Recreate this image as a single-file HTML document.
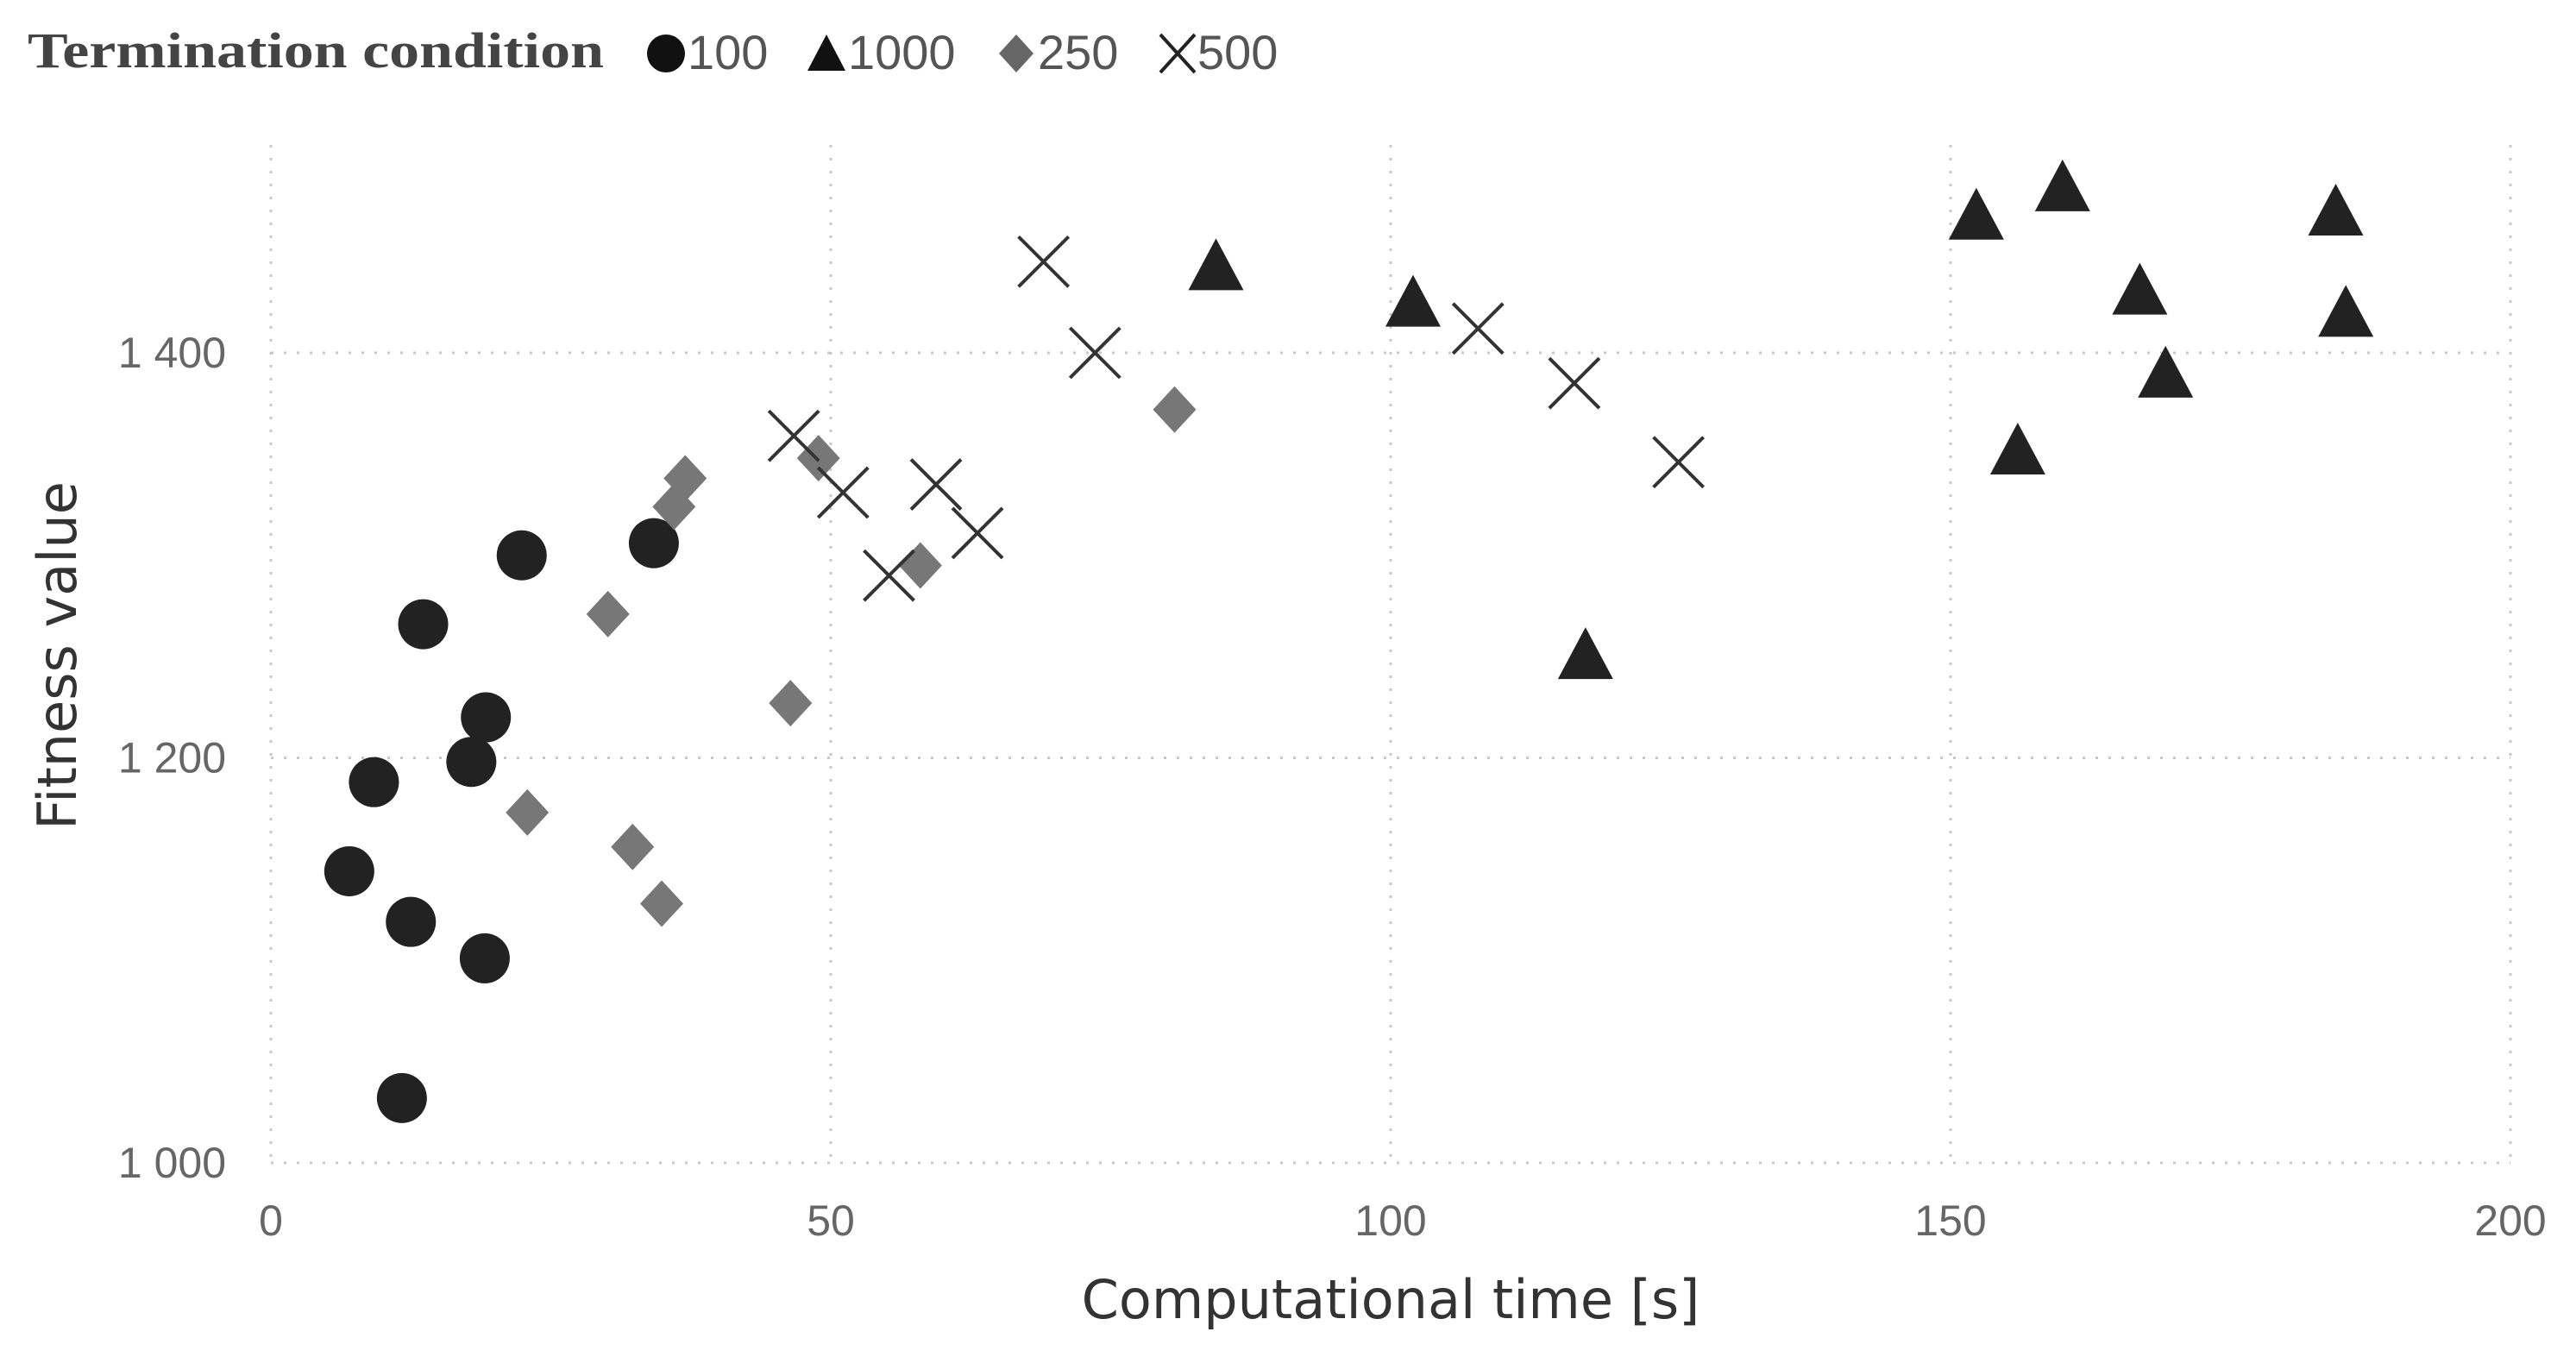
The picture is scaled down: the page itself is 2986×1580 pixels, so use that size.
<!DOCTYPE html>
<html><head><meta charset="utf-8"><style>
html,body{margin:0;padding:0;background:#fff;}
svg{display:block;}
</style></head><body>
<svg id="chart" width="2986" height="1580" viewBox="0 0 2986 1580" xmlns="http://www.w3.org/2000/svg">
<g id="legend">
<text x="32" y="78" textLength="668" lengthAdjust="spacingAndGlyphs" font-family="Liberation Serif, serif" font-weight="bold" font-size="58" fill="#444">Termination condition</text>
<g><circle cx="772" cy="62" r="22" fill="#111"/><text x="797" y="80" font-family="Liberation Sans Narrow, Liberation Sans, sans-serif" font-size="56" fill="#555">100</text></g>
<g><polygon points="958,40 936,82 980,82" fill="#111"/><text x="983" y="80" font-family="Liberation Sans Narrow, Liberation Sans, sans-serif" font-size="56" fill="#555">1000</text></g>
<g><polygon points="1178,40 1198,62 1178,84 1158,62" fill="#666"/><text x="1203" y="80" font-family="Liberation Sans Narrow, Liberation Sans, sans-serif" font-size="56" fill="#555">250</text></g>
<g><path d="M1345,40 L1385,84 M1385,40 L1345,84" stroke="#222" stroke-width="4"/><text x="1388" y="80" font-family="Liberation Sans Narrow, Liberation Sans, sans-serif" font-size="56" fill="#555">500</text></g>
</g>
<g id="grid"></g>
<g id="axes"></g>
<g id="marks"></g>
<text transform="translate(88,760) rotate(-90)" text-anchor="middle" font-family="DejaVu Sans, sans-serif" font-size="62" fill="#333">Fitness value</text>
<text x="1612" y="1528" text-anchor="middle" font-family="DejaVu Sans, sans-serif" font-size="62" fill="#333">Computational time [s]</text>
</svg>
<script>
const xTicks=[0,50,100,150,200];
const yTicks=[1000,1200,1400];
const yTickLabels=["1 000","1 200","1 400"];
const x100=[11.7,7.0,9.2,12.5,13.6,19.1,19.2,17.9,22.4,34.2];
const y100=[1032,1144,1188,1119,1266,1101,1220,1198,1300,1306];
const x1000=[84.4,102.0,117.4,152.3,160,166.9,169.2,156,184.4,185.3];
const y1000=[1442,1424,1250,1467,1481,1430,1389,1351,1469,1419];
const x250=[22.9,30.1,32.3,34.9,36,37,46.4,48.9,58,80.7];
const y250=[1173,1271,1156,1128,1324,1338,1227,1348,1295,1372];
const x500=[69,73.6,46.7,51.1,59.4,63.1,55.2,107.8,116.4,125.7];
const y500=[1445,1400,1359,1331,1335,1311,1290,1412,1385,1346];

const NS="http://www.w3.org/2000/svg";
const X0=314,X1=2910,Y1000=1348,Y1400=409;
function sx(v){return X0+(v-0)*(X1-X0)/200;}
function sy(v){return Y1000-(v-1000)*(Y1000-Y1400)/400;}
function mk(tag,attrs,parent){const e=document.createElementNS(NS,tag);for(const k in attrs)e.setAttribute(k,attrs[k]);parent.appendChild(e);return e;}
const grid=document.getElementById('grid'),axes=document.getElementById('axes'),marks=document.getElementById('marks');
const TOP=168;
xTicks.forEach((t,i)=>{
  const l=mk('line',{x1:sx(t),x2:sx(t),y1:TOP,y2:sy(1000),stroke:'#c8c8c8','stroke-width':3,'stroke-dasharray':'3,12'},grid);
  
  
  const tx=mk('text',{x:sx(t),y:1432,'text-anchor':'middle','font-family':'Liberation Sans Narrow, Liberation Sans, sans-serif','font-size':50,fill:'#666'},axes);
  tx.textContent=String(t);
  
  
});
yTicks.forEach((t,i)=>{
  const l=mk('line',{x1:X0,x2:X1,y1:sy(t),y2:sy(t),stroke:'#c8c8c8','stroke-width':3,'stroke-dasharray':'3,12'},grid);
  
  
  const tx=mk('text',{x:262,y:sy(t)+17,'text-anchor':'end','font-family':'Liberation Sans Narrow, Liberation Sans, sans-serif','font-size':50,fill:'#666'},axes);
  tx.textContent=yTickLabels[i];
  
  
});
x100.forEach((v,i)=>{
  const c=mk('circle',{cx:sx(v),cy:sy(y100[i]),r:29,fill:'#222'},marks);
  
  
});
x1000.forEach((v,i)=>{
  const cx=sx(v),cy=sy(y1000[i]);
  const p=mk('polygon',{points:`${cx},${cy-34} ${cx-32},${cy+26} ${cx+32},${cy+26}`,fill:'#222'},marks);
  
  
});
x250.forEach((v,i)=>{
  const cx=sx(v),cy=sy(y250[i]);
  const p=mk('polygon',{points:`${cx},${cy-27} ${cx+25},${cy} ${cx},${cy+27} ${cx-25},${cy}`,fill:'#777'},marks);
  
  
});
x500.forEach((v,i)=>{
  const cx=sx(v),cy=sy(y500[i]),d=29;
  const p=mk('path',{d:`M${cx-d},${cy-d} L${cx+d},${cy+d} M${cx+d},${cy-d} L${cx-d},${cy+d}`,stroke:'#333','stroke-width':4,fill:'none'},marks);
  
  
});
</script>
</body></html>
